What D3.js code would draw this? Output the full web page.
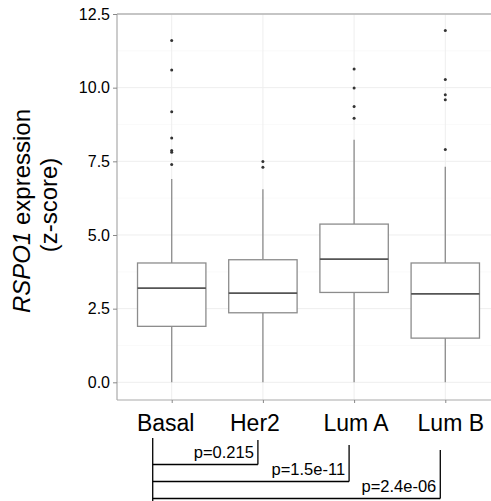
<!DOCTYPE html>
<html>
<head>
<meta charset="utf-8">
<script src="https://cdn.jsdelivr.net/npm/d3@7"></script>
<style>
  body { margin: 0; background: #fff; }
  text { font-family: "Liberation Sans", Arial, sans-serif; fill: #000; }
</style>
</head>
<body>
<svg id="chart" width="491" height="501"></svg>
<script>
///////  data ///////

var groups = ["Basal", "Her2", "Lum A", "Lum B"];

// [lower whisker, q1, median, q3, upper whisker]
var basalBox = [0, 1.9, 3.2, 4.05, 6.9];
var her2Box  = [0, 2.36, 3.03, 4.16, 6.55];
var lumABox  = [0, 3.05, 4.18, 5.37, 8.23];
var lumBBox  = [0, 1.5, 3.0, 4.05, 7.32];

var basalOut = [11.6, 10.6, 9.18, 8.29, 7.87, 7.81, 7.39];
var her2Out  = [7.49, 7.3];
var lumAOut  = [10.63, 9.99, 9.36, 8.96];
var lumBOut  = [11.94, 10.28, 9.76, 9.59, 7.9];

var yTicks = [0, 2.5, 5, 7.5, 10, 12.5];
var yMinor = [1.25, 3.75, 6.25, 8.75, 11.25];

// comparisons against Basal
var compTo  = ["Her2", "Lum A", "Lum B"];
var compP   = ["p=0.215", "p=1.5e-11", "p=2.4e-06"];

var boxes = groups.map(function(g, i) {
    var b = [basalBox, her2Box, lumABox, lumBBox][i];
    return {group: g, lo: b[0], q1: b[1], med: b[2], q3: b[3], hi: b[4],
            out: [basalOut, her2Out, lumAOut, lumBOut][i]};
});

/////// layout ///////

var svg = d3.select("#chart"),
    margin = {top: 14, left: 117, bottom: 101},
    panelRight = 500,
    height = +svg.attr("height") - margin.top - margin.bottom;

var x = d3.scalePoint().domain(groups)
    .range([margin.left, panelRight]).padding(0.6);
var bw = x.step() * 0.75;

var y = d3.scaleLinear().domain([-0.6, 12.5])
    .range([margin.top + height, margin.top]);

var clip = svg.append("defs").append("clipPath").attr("id", "clip")
    .append("rect")
    .attr("x", margin.left).attr("y", margin.top - 2)
    .attr("width", panelRight - margin.left).attr("height", height + 4);

var panel = svg.append("g").attr("clip-path", "url(#clip)");

// grid
panel.selectAll(".minor").data(yMinor).enter().append("line")
    .attr("x1", margin.left).attr("x2", panelRight)
    .attr("y1", y).attr("y2", y)
    .attr("stroke", "#f6f6f6").attr("stroke-width", 0.6);

panel.selectAll(".major").data(yTicks).enter().append("line")
    .attr("x1", margin.left).attr("x2", panelRight)
    .attr("y1", y).attr("y2", y)
    .attr("stroke", "#eeeeee").attr("stroke-width", 1);

panel.selectAll(".vgrid").data(groups).enter().append("line")
    .attr("x1", x).attr("x2", x)
    .attr("y1", margin.top).attr("y2", margin.top + height)
    .attr("stroke", "#eeeeee").attr("stroke-width", 1);

// panel border (top)
panel.append("line")
    .attr("x1", margin.left).attr("x2", panelRight)
    .attr("y1", margin.top).attr("y2", margin.top)
    .attr("stroke", "#b4b4b4").attr("stroke-width", 1.5);

// boxplots
var g = panel.selectAll(".box").data(boxes).enter().append("g");

g.append("line")
    .attr("x1", function(d) { return x(d.group); })
    .attr("x2", function(d) { return x(d.group); })
    .attr("y1", function(d) { return y(d.q3); })
    .attr("y2", function(d) { return y(d.hi); })
    .attr("stroke", "#8c8c8c").attr("stroke-width", 1.3);

g.append("line")
    .attr("x1", function(d) { return x(d.group); })
    .attr("x2", function(d) { return x(d.group); })
    .attr("y1", function(d) { return y(d.q1); })
    .attr("y2", function(d) { return y(d.lo); })
    .attr("stroke", "#8c8c8c").attr("stroke-width", 1.3);

g.append("rect")
    .attr("x", function(d) { return x(d.group) - bw / 2; })
    .attr("width", bw)
    .attr("y", function(d) { return y(d.q3); })
    .attr("height", function(d) { return y(d.q1) - y(d.q3); })
    .attr("fill", "#fff").attr("stroke", "#8c8c8c").attr("stroke-width", 1.3);

g.append("line")
    .attr("x1", function(d) { return x(d.group) - bw / 2; })
    .attr("x2", function(d) { return x(d.group) + bw / 2; })
    .attr("y1", function(d) { return y(d.med); })
    .attr("y2", function(d) { return y(d.med); })
    .attr("stroke", "#555").attr("stroke-width", 1.8);

g.each(function(d) {
    d3.select(this).selectAll("circle").data(d.out).enter().append("circle")
        .attr("cx", x(d.group))
        .attr("cy", function(v) { return y(v); })
        .attr("r", 1.5)
        .attr("fill", "#333");
});

// axes
var yAxis = d3.axisLeft(y).tickValues(yTicks).tickSize(4).tickPadding(3)
    .tickFormat(d3.format(".1f"));
var ya = svg.append("g")
    .attr("transform", "translate(" + margin.left + ",0)")
    .call(yAxis);
ya.select(".domain").attr("stroke", "#aaa").attr("stroke-width", 1.2)
    .attr("d", "M0," + margin.top + "V" + (margin.top + height));
ya.selectAll(".tick line").attr("stroke", "#888");
ya.selectAll(".tick text").attr("font-size", 16)
    .style("font-family", "'Liberation Sans', Arial, sans-serif").attr("fill", "#111");

// label nudges as laid out in the original figure
var labelDx = [-6.5, -8.5, 1.5, 5];
var xAxis = d3.axisBottom(x).tickSize(3).tickPadding(12);
var xa = svg.append("g")
    .attr("transform", "translate(0," + (margin.top + height) + ")")
    .call(xAxis);
xa.select(".domain").attr("stroke", "#aaa").attr("stroke-width", 1.2)
    .attr("d", "M" + margin.left + ",0H" + panelRight);
xa.selectAll(".tick line").attr("stroke", "#888");
xa.selectAll(".tick text").attr("font-size", 23)
    .attr("dx", function(d, i) { return labelDx[i]; })
    .style("font-family", "'Liberation Sans', Arial, sans-serif").attr("fill", "#000");

// y title
var title = svg.append("text")
    .attr("transform", "translate(30," + (margin.top + height / 2 + 4) + ") rotate(-90)")
    .attr("text-anchor", "middle")
    .attr("font-size", 24);
title.append("tspan").attr("font-style", "italic").text("RSPO1");
title.append("tspan").text(" expression");
svg.append("text")
    .attr("transform", "translate(57," + (margin.top + height / 2 - 2) + ") rotate(-90)")
    .attr("text-anchor", "middle")
    .attr("font-size", 24)
    .text("(z-score)");

/////// p-value brackets ///////

var bx0 = x("Basal") - 19;
var rowY = d3.scaleLinear().domain([0, 1]).range([464.5, 481.5]);

svg.append("line")
    .attr("x1", bx0).attr("x2", bx0)
    .attr("y1", 438).attr("y2", 501)
    .attr("stroke", "#000").attr("stroke-width", 1.3);

compTo.forEach(function(c, i) {
    var xe = x(c) - 5;
    var yb = rowY(i);
    svg.append("line")
        .attr("x1", bx0).attr("x2", xe)
        .attr("y1", yb).attr("y2", yb)
        .attr("stroke", "#000").attr("stroke-width", 1.3);
    svg.append("line")
        .attr("x1", xe).attr("x2", xe)
        .attr("y1", 440 + i * 5).attr("y2", yb)
        .attr("stroke", "#000").attr("stroke-width", 1.3);
    svg.append("text")
        .attr("x", xe - 4).attr("y", yb - 7)
        .attr("text-anchor", "end")
        .attr("font-size", 16.5)
        .text(compP[i]);
});
</script>
</body>
</html>
